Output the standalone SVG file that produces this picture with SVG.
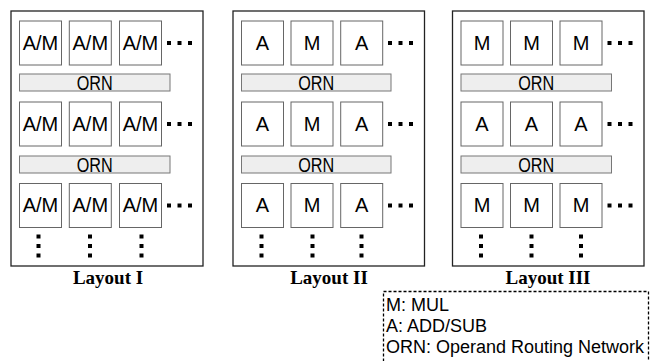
<svg xmlns="http://www.w3.org/2000/svg" width="652" height="361" viewBox="0 0 652 361">
<style>
.frame{fill:#fff;stroke:#222;stroke-width:1.3}
.cell{fill:#fff;stroke:#666;stroke-width:1}
.orn{fill:#eeeeee;stroke:#777;stroke-width:1}
.ct{font-family:"Liberation Sans",Arial,sans-serif;font-size:20px;fill:#000;text-anchor:middle}
.ot{font-family:"Liberation Sans",Arial,sans-serif;font-size:19.5px;fill:#000;text-anchor:middle}
.lbl{font-family:"Liberation Serif","Times New Roman",serif;font-weight:bold;font-size:19px;fill:#000;text-anchor:middle}
.leg{font-family:"Liberation Sans",Arial,sans-serif;font-size:18px;fill:#000}
.dot{fill:#000}
.dash{fill:none;stroke:#000;stroke-width:1.3;stroke-dasharray:3 2}
</style>
<defs>
<g id="hdots"><rect class="dot" x="0" y="0" width="4" height="4"/><rect class="dot" x="10.5" y="0" width="4" height="4"/><rect class="dot" x="21" y="0" width="4" height="4"/></g>
<g id="vdots"><rect class="dot" x="0" y="0" width="4" height="4"/><rect class="dot" x="0" y="9.5" width="4" height="4"/><rect class="dot" x="0" y="19" width="4" height="4"/></g>
</defs>

<!-- Layout I -->
<g id="layout1">
<rect class="frame" x="11" y="11" width="192" height="255"/>
<g id="l1r1c1"><rect class="cell" x="19.5" y="21" width="42" height="44"/><text class="ct" x="40.5" y="49.5">A/M</text></g>
<g id="l1r1c2"><rect class="cell" x="69.3" y="21" width="42" height="44"/><text class="ct" x="90.3" y="49.5">A/M</text></g>
<g id="l1r1c3"><rect class="cell" x="119.5" y="21" width="42" height="44"/><text class="ct" x="140.5" y="49.5">A/M</text></g>
<use href="#hdots" x="167" y="41"/>
<g id="l1orn1"><rect class="orn" x="19.5" y="74" width="150.5" height="17"/><text class="ot" x="94.7" y="89.5" textLength="36" lengthAdjust="spacingAndGlyphs">ORN</text></g>
<g id="l1r2c1"><rect class="cell" x="19.5" y="102" width="42" height="44"/><text class="ct" x="40.5" y="130.5">A/M</text></g>
<g id="l1r2c2"><rect class="cell" x="69.3" y="102" width="42" height="44"/><text class="ct" x="90.3" y="130.5">A/M</text></g>
<g id="l1r2c3"><rect class="cell" x="119.5" y="102" width="42" height="44"/><text class="ct" x="140.5" y="130.5">A/M</text></g>
<use href="#hdots" x="167" y="122"/>
<g id="l1orn2"><rect class="orn" x="19.5" y="156" width="150.5" height="17"/><text class="ot" x="94.7" y="171.5" textLength="36" lengthAdjust="spacingAndGlyphs">ORN</text></g>
<g id="l1r3c1"><rect class="cell" x="19.5" y="183.5" width="42" height="44"/><text class="ct" x="40.5" y="212">A/M</text></g>
<g id="l1r3c2"><rect class="cell" x="69.3" y="183.5" width="42" height="44"/><text class="ct" x="90.3" y="212">A/M</text></g>
<g id="l1r3c3"><rect class="cell" x="119.5" y="183.5" width="42" height="44"/><text class="ct" x="140.5" y="212">A/M</text></g>
<use href="#hdots" x="167" y="203.5"/>
<use href="#vdots" x="36.5" y="234.5"/>
<use href="#vdots" x="88" y="234.5"/>
<use href="#vdots" x="139.5" y="234.5"/>
<text class="lbl" x="108" y="284">Layout I</text>
</g>

<!-- Layout II -->
<g id="layout2">
<rect class="frame" x="233" y="11" width="191.5" height="255"/>
<g id="l2r1c1"><rect class="cell" x="241.5" y="21" width="42" height="44"/><text class="ct" x="262.5" y="49.5">A</text></g>
<g id="l2r1c2"><rect class="cell" x="291" y="21" width="42" height="44"/><text class="ct" x="312" y="49.5">M</text></g>
<g id="l2r1c3"><rect class="cell" x="340.7" y="21" width="42" height="44"/><text class="ct" x="361.7" y="49.5">A</text></g>
<use href="#hdots" x="388" y="41"/>
<g id="l2orn1"><rect class="orn" x="241.5" y="74" width="149.5" height="17"/><text class="ot" x="316.2" y="89.5" textLength="36" lengthAdjust="spacingAndGlyphs">ORN</text></g>
<g id="l2r2c1"><rect class="cell" x="241.5" y="102" width="42" height="44"/><text class="ct" x="262.5" y="130.5">A</text></g>
<g id="l2r2c2"><rect class="cell" x="291" y="102" width="42" height="44"/><text class="ct" x="312" y="130.5">M</text></g>
<g id="l2r2c3"><rect class="cell" x="340.7" y="102" width="42" height="44"/><text class="ct" x="361.7" y="130.5">A</text></g>
<use href="#hdots" x="388" y="122"/>
<g id="l2orn2"><rect class="orn" x="241.5" y="156" width="149.5" height="17"/><text class="ot" x="316.2" y="171.5" textLength="36" lengthAdjust="spacingAndGlyphs">ORN</text></g>
<g id="l2r3c1"><rect class="cell" x="241.5" y="183.5" width="42" height="44"/><text class="ct" x="262.5" y="212">A</text></g>
<g id="l2r3c2"><rect class="cell" x="291" y="183.5" width="42" height="44"/><text class="ct" x="312" y="212">M</text></g>
<g id="l2r3c3"><rect class="cell" x="340.7" y="183.5" width="42" height="44"/><text class="ct" x="361.7" y="212">A</text></g>
<use href="#hdots" x="388" y="203.5"/>
<use href="#vdots" x="259.5" y="234.5"/>
<use href="#vdots" x="310.5" y="234.5"/>
<use href="#vdots" x="359.5" y="234.5"/>
<text class="lbl" x="329" y="284">Layout II</text>
</g>

<!-- Layout III -->
<g id="layout3">
<rect class="frame" x="452.5" y="11" width="191.5" height="255"/>
<g id="l3r1c1"><rect class="cell" x="461" y="21" width="42" height="44"/><text class="ct" x="482" y="49.5">M</text></g>
<g id="l3r1c2"><rect class="cell" x="510.5" y="21" width="42" height="44"/><text class="ct" x="531.5" y="49.5">M</text></g>
<g id="l3r1c3"><rect class="cell" x="560" y="21" width="42" height="44"/><text class="ct" x="581" y="49.5">M</text></g>
<use href="#hdots" x="607.5" y="41"/>
<g id="l3orn1"><rect class="orn" x="461" y="74" width="150.5" height="17"/><text class="ot" x="536.2" y="89.5" textLength="36" lengthAdjust="spacingAndGlyphs">ORN</text></g>
<g id="l3r2c1"><rect class="cell" x="461" y="102" width="42" height="44"/><text class="ct" x="482" y="130.5">A</text></g>
<g id="l3r2c2"><rect class="cell" x="510.5" y="102" width="42" height="44"/><text class="ct" x="531.5" y="130.5">A</text></g>
<g id="l3r2c3"><rect class="cell" x="560" y="102" width="42" height="44"/><text class="ct" x="581" y="130.5">A</text></g>
<use href="#hdots" x="607.5" y="122"/>
<g id="l3orn2"><rect class="orn" x="461" y="156" width="150.5" height="17"/><text class="ot" x="536.2" y="171.5" textLength="36" lengthAdjust="spacingAndGlyphs">ORN</text></g>
<g id="l3r3c1"><rect class="cell" x="461" y="183.5" width="42" height="44"/><text class="ct" x="482" y="212">M</text></g>
<g id="l3r3c2"><rect class="cell" x="510.5" y="183.5" width="42" height="44"/><text class="ct" x="531.5" y="212">M</text></g>
<g id="l3r3c3"><rect class="cell" x="560" y="183.5" width="42" height="44"/><text class="ct" x="581" y="212">M</text></g>
<use href="#hdots" x="607.5" y="203.5"/>
<use href="#vdots" x="479" y="234.5"/>
<use href="#vdots" x="529.5" y="234.5"/>
<use href="#vdots" x="579" y="234.5"/>
<text class="lbl" x="548" y="284">Layout III</text>
</g>

<!-- Legend -->
<g id="legend">
<rect class="dash" x="383.5" y="291.5" width="265" height="80"/>
<text class="leg" x="386" y="311">M: MUL</text>
<text class="leg" x="386" y="332">A: ADD/SUB</text>
<text class="leg" x="386" y="353">ORN: Operand Routing Network</text>
</g>
<g id="connectors"/>
</svg>
